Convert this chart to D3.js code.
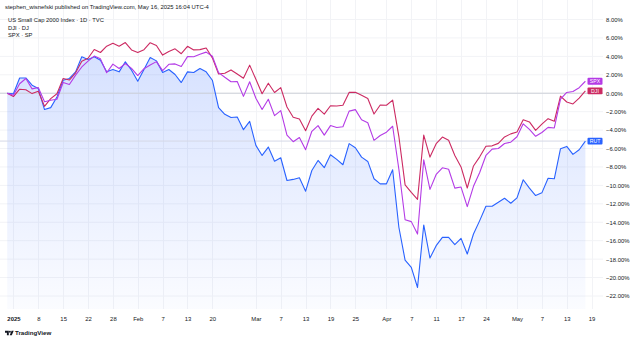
<!DOCTYPE html>
<html>
<head>
<meta charset="utf-8">
<script src="https://cdn.jsdelivr.net/npm/d3@7"></script>
<style>
  body { margin: 0; background: #fff; }
  svg { display: block; font-family: "Liberation Sans", Arial, sans-serif; }
</style>
</head>
<body>
<svg id="chart" width="640" height="341"></svg>
<script>
// Trading sessions (base session 2024-12-31 = 0%)
const days = [
  "2024-12-31",
  "2025-01-02","2025-01-03","2025-01-06","2025-01-07","2025-01-08","2025-01-10","2025-01-13","2025-01-14","2025-01-15","2025-01-16",
  "2025-01-17","2025-01-21","2025-01-22","2025-01-23","2025-01-24","2025-01-27","2025-01-28","2025-01-29","2025-01-30","2025-01-31",
  "2025-02-03","2025-02-04","2025-02-05","2025-02-06","2025-02-07","2025-02-10","2025-02-11","2025-02-12","2025-02-13","2025-02-14",
  "2025-02-18","2025-02-19","2025-02-20","2025-02-21","2025-02-24","2025-02-25","2025-02-26","2025-02-27","2025-02-28",
  "2025-03-03","2025-03-04","2025-03-05","2025-03-06","2025-03-07","2025-03-10","2025-03-11","2025-03-12","2025-03-13","2025-03-14",
  "2025-03-17","2025-03-18","2025-03-19","2025-03-20","2025-03-21","2025-03-24","2025-03-25","2025-03-26","2025-03-27","2025-03-28","2025-03-31",
  "2025-04-01","2025-04-02","2025-04-03","2025-04-04","2025-04-07","2025-04-08","2025-04-09","2025-04-10","2025-04-11","2025-04-14",
  "2025-04-15","2025-04-16","2025-04-17","2025-04-21","2025-04-22","2025-04-23","2025-04-24","2025-04-25","2025-04-28","2025-04-29","2025-04-30",
  "2025-05-01","2025-05-02","2025-05-05","2025-05-06","2025-05-07","2025-05-08","2025-05-09","2025-05-12","2025-05-13","2025-05-14",
  "2025-05-15","2025-05-16"
];
// next session, used only as an axis slot
const nextSession = "2025-05-19";

// % change since 2024-12-31
const rut = [
  0,
  -0.05, 1.66, 1.66, 0.87, 0.51, -1.77, -1.56, -0.40, 1.41, 1.60,
  2.32, 3.95, 3.67, 3.95, 3.59, 2.32, 2.58, 2.32, 3.41, 2.50,
  1.31, 2.58, 3.88, 3.51, 2.25, 2.58, 2.03, 1.16, 2.32, 2.25,
  2.69, 2.32, 1.41, -1.56, -2.29, -2.64, -2.58, -3.95, -3.05,
  -5.66, -6.75, -5.84, -7.37, -7.00, -9.47, -9.35, -9.17, -10.63, -8.38,
  -7.29, -8.08, -6.67, -7.18, -7.76, -5.47, -5.91, -6.93, -7.40, -9.28, -9.83,
  -9.83, -8.30, -14.54, -18.10, -18.90, -21.08, -14.29, -17.88, -16.54, -15.64,
  -15.64, -16.43, -15.75, -17.44, -15.27, -13.82, -12.26, -12.26, -11.83, -11.39, -11.94,
  -11.35, -9.39, -10.30, -11.10, -10.81, -9.22, -9.28, -6.02, -5.77, -6.64,
  -6.13, -5.19
];
const dji = [
  0,
  -0.36, 0.44, 0.38, -0.04, 0.21, -1.42, -0.58, -0.06, 1.59, 1.43,
  2.22, 3.48, 3.79, 4.75, 4.42, 5.10, 5.42, 5.10, 5.50, 4.70,
  4.41, 4.73, 5.48, 5.18, 4.14, 4.53, 4.82, 4.29, 5.09, 4.70,
  4.73, 4.90, 3.84, 2.08, 2.16, 2.53, 2.09, 1.63, 3.05,
  1.52, -0.05, 1.09, 0.08, 0.61, -1.49, -2.61, -2.80, -4.07, -2.48,
  -1.65, -2.26, -1.36, -1.39, -1.31, 0.09, 0.10, -0.21, -0.57, -2.26, -1.28,
  -1.30, -0.75, -4.70, -9.94, -10.76, -11.51, -4.55, -6.93, -5.48, -4.75,
  -5.11, -6.76, -8.00, -10.28, -7.89, -6.90, -5.76, -5.71, -5.44, -4.74, -4.41,
  -4.21, -2.88, -3.11, -4.03, -3.36, -2.76, -3.04, -0.32, -0.95, -1.16,
  -0.52, 0.26
];
const spx = [
  0,
  -0.22, 1.03, 1.60, 0.47, 0.62, -0.93, -0.77, -0.66, 1.16, 0.95,
  1.96, 2.85, 3.48, 4.03, 3.73, 2.22, 3.16, 2.68, 3.22, 2.70,
  1.92, 2.66, 3.06, 3.43, 2.45, 3.14, 3.18, 2.90, 3.97, 3.96,
  4.22, 4.46, 4.01, 2.24, 1.73, 1.25, 1.27, -0.34, 1.24,
  -0.54, -1.76, -0.66, -2.43, -1.89, -4.54, -5.26, -4.80, -6.12, -4.13,
  -3.51, -4.54, -3.51, -3.72, -3.64, -1.94, -1.78, -2.88, -3.20, -5.11, -4.59,
  -4.23, -3.58, -8.25, -13.73, -13.93, -15.28, -7.22, -10.43, -8.81, -8.09,
  -8.25, -10.30, -10.18, -12.30, -10.10, -8.60, -6.75, -6.06, -6.00, -5.45, -5.31,
  -4.72, -3.32, -3.93, -4.67, -4.26, -3.70, -3.77, -0.64, 0.08, 0.19,
  0.60, 1.30
];

// Time axis ticks
const tickDates = ["2025-01-02","2025-01-08","2025-01-15","2025-01-22","2025-01-28","2025-02-03","2025-02-07","2025-02-13","2025-02-20",
  "2025-03-03","2025-03-07","2025-03-13","2025-03-19","2025-03-25","2025-04-01","2025-04-07","2025-04-11","2025-04-17","2025-04-24",
  "2025-05-01","2025-05-07","2025-05-13","2025-05-19"];
const tickLabels = ["2025","8","15","22","28","Feb","7","13","20","Mar","7","13","19","25","Apr","7","11","17","24","May","7","13","19"];
const yTicks = [8, 6, 4, 2, 0, -2, -4, -6, -8, -10, -12, -14, -16, -18, -20, -22];

const legendLines = ["US Small Cap 2000 Index \u00b7 1D \u00b7 TVC", "DJI \u00b7 DJ", "SPX \u00b7 SP"];
const headerText = "stephen_wisnefski published on TradingView.com, May 16, 2025 16:04 UTC-4";

const series = [
  { name: "RUT", values: rut, color: "#2962ff" },
  { name: "DJI", values: dji, color: "#cc2a62" },
  { name: "SPX", values: spx, color: "#b43be6" }
];

const svg = d3.select("#chart");
const plotRight = 603, plotBottom = 309;
const slots = days.concat([nextSession]);

const x = d3.scaleLinear().domain([0, days.length]).range([7.2, 591.6]);
const y = d3.scaleLinear().domain([-22, 8]).range([296, 19.5]);
const ink = "#131722";

// gradient for the index area
const defs = svg.append("defs");
const grad = defs.append("linearGradient").attr("id", "rutFill")
  .attr("gradientUnits", "userSpaceOnUse")
  .attr("x1", 0).attr("x2", 0).attr("y1", y(d3.max(rut))).attr("y2", plotBottom);
grad.append("stop").attr("offset", 0).attr("stop-color", "#2962ff").attr("stop-opacity", 0.19);
grad.append("stop").attr("offset", 1).attr("stop-color", "#2962ff").attr("stop-opacity", 0.02);

// grid
const grid = svg.append("g");
grid.selectAll("line.h").data(yTicks).join("line")
  .attr("x1", 0).attr("x2", plotRight)
  .attr("y1", d => y(d)).attr("y2", d => y(d))
  .attr("stroke", "#f2f3f6").attr("stroke-width", 1);
grid.selectAll("line.v").data(tickDates).join("line")
  .attr("x1", d => Math.round(x(slots.indexOf(d))) + 0.5).attr("x2", d => Math.round(x(slots.indexOf(d))) + 0.5)
  .attr("y1", 0).attr("y2", plotBottom)
  .attr("stroke", "#f2f3f6").attr("stroke-width", 1);

// area under the index
svg.append("path")
  .datum(rut)
  .attr("fill", "url(#rutFill)")
  .attr("d", d3.area().x((d, i) => x(i)).y0(plotBottom).y1(d => y(d)));

// zero baseline and last-value line of the main series
svg.append("line").attr("x1", 0).attr("x2", plotRight)
  .attr("y1", y(0)).attr("y2", y(0)).attr("stroke", "#cdd0d8").attr("stroke-width", 1);
svg.append("line").attr("x1", 0).attr("x2", plotRight)
  .attr("y1", y(rut[rut.length - 1])).attr("y2", y(rut[rut.length - 1]))
  .attr("stroke", "#d5d9e6").attr("stroke-width", 1);

// series lines
const line = d3.line().x((d, i) => x(i)).y(d => y(d));
svg.selectAll("path.series").data(series).join("path")
  .attr("class", "series")
  .attr("fill", "none")
  .attr("stroke", d => d.color)
  .attr("stroke-width", 1.1)
  .attr("stroke-linejoin", "round")
  .attr("d", d => line(d.values));

// price axis
const yAxis = svg.append("g").attr("transform", `translate(${plotRight},0)`)
  .call(d3.axisRight(y).tickValues(yTicks).tickSize(0).tickPadding(3)
    .tickFormat(d => (d < 0 ? "\u2212" : "") + Math.abs(d).toFixed(2) + "%"));
yAxis.select(".domain").remove();
yAxis.selectAll("text").attr("fill", ink).attr("font-size", "5.9px")
  .attr("font-family", "'Liberation Sans', Arial, sans-serif");

// time axis
const xAxis = svg.append("g").attr("transform", `translate(0,${plotBottom})`)
  .call(d3.axisBottom(x).tickValues(tickDates.map(d => slots.indexOf(d))).tickSize(0).tickPadding(8)
    .tickFormat((d, i) => tickLabels[i]));
xAxis.select(".domain").remove();
xAxis.selectAll("text").attr("fill", ink).attr("font-size", "5.9px")
  .attr("font-family", "'Liberation Sans', Arial, sans-serif")
  .attr("font-weight", (d, i) => tickLabels[i] === "2025" ? "bold" : "normal");

// last-value labels
const tags = svg.selectAll("g.tag").data(series).join("g").attr("class", "tag")
  .attr("transform", d => `translate(587.5,${y(d.values[d.values.length - 1])})`);
tags.append("rect").attr("x", 0).attr("y", -3.4).attr("width", 15).attr("height", 6.8).attr("rx", 1)
  .attr("fill", d => d.color);
tags.append("text").attr("x", 7.5).attr("y", 0).attr("dy", "0.35em").attr("text-anchor", "middle")
  .attr("fill", "#fff").attr("font-size", "5.2px").text(d => d.name);

// header and legend
svg.append("text").attr("x", 5).attr("y", 9).attr("fill", ink).attr("font-size", "5.9px").text(headerText);
svg.selectAll("text.legend").data(legendLines).join("text").attr("class", "legend")
  .attr("x", 8).attr("y", (d, i) => 22 + i * 7.5).attr("fill", ink).attr("font-size", "5.8px").text(d => d);

// TradingView mark
const logo = svg.append("g").attr("fill", ink);
logo.append("path").attr("d", "M5,330.8 h3.8 v4.4 h-1.9 v-2.5 h-1.9 z");
logo.append("circle").attr("cx", 9.9).attr("cy", 331.7).attr("r", 0.95);
logo.append("path").attr("d", "M11.6,330.8 h2.1 l-1.9,4.4 h-2.1 z");
svg.append("text").attr("x", 15).attr("y", 335.3).attr("fill", ink).attr("font-size", "6.2px")
  .attr("font-weight", 600).text("TradingView");
</script>
</body>
</html>
